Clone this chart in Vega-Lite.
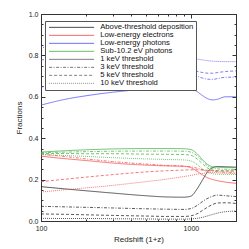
{
"$schema":"https://vega.github.io/schema/vega-lite/v6.json",
"width":195,"height":207,"autosize":"none",
"padding":{"left":41,"top":14,"right":13,"bottom":28},
"config":{"view":{"stroke":"#333","strokeWidth":1},
"axis":{"labelFont":"Liberation Sans","titleFont":"Liberation Sans","labelFontSize":7,"titleFontSize":8,"titleFontWeight":"normal","domainColor":"#333","tickColor":"#333","labelColor":"#222","titleColor":"#222","grid":false,"domainWidth":1}},
"data":{"values":[
{"c":"Above-threshold deposition","t":"1 keV","z":100,"f":0.166},{"c":"Above-threshold deposition","t":"1 keV","z":150,"f":0.154},{"c":"Above-threshold deposition","t":"1 keV","z":200,"f":0.146},{"c":"Above-threshold deposition","t":"1 keV","z":300,"f":0.135},{"c":"Above-threshold deposition","t":"1 keV","z":500,"f":0.122},{"c":"Above-threshold deposition","t":"1 keV","z":700,"f":0.116},{"c":"Above-threshold deposition","t":"1 keV","z":900,"f":0.115},{"c":"Above-threshold deposition","t":"1 keV","z":1000,"f":0.12},{"c":"Above-threshold deposition","t":"1 keV","z":1100,"f":0.155},{"c":"Above-threshold deposition","t":"1 keV","z":1200,"f":0.2},{"c":"Above-threshold deposition","t":"1 keV","z":1300,"f":0.24},{"c":"Above-threshold deposition","t":"1 keV","z":1400,"f":0.258},{"c":"Above-threshold deposition","t":"1 keV","z":1500,"f":0.263},{"c":"Above-threshold deposition","t":"1 keV","z":1700,"f":0.262},{"c":"Above-threshold deposition","t":"1 keV","z":2000,"f":0.26},
{"c":"Above-threshold deposition","t":"3 keV","z":100,"f":0.071},{"c":"Above-threshold deposition","t":"3 keV","z":150,"f":0.068},{"c":"Above-threshold deposition","t":"3 keV","z":200,"f":0.066},{"c":"Above-threshold deposition","t":"3 keV","z":300,"f":0.063},{"c":"Above-threshold deposition","t":"3 keV","z":500,"f":0.059},{"c":"Above-threshold deposition","t":"3 keV","z":700,"f":0.057},{"c":"Above-threshold deposition","t":"3 keV","z":900,"f":0.056},{"c":"Above-threshold deposition","t":"3 keV","z":1000,"f":0.06},{"c":"Above-threshold deposition","t":"3 keV","z":1100,"f":0.075},{"c":"Above-threshold deposition","t":"3 keV","z":1200,"f":0.095},{"c":"Above-threshold deposition","t":"3 keV","z":1300,"f":0.11},{"c":"Above-threshold deposition","t":"3 keV","z":1400,"f":0.12},{"c":"Above-threshold deposition","t":"3 keV","z":1500,"f":0.125},{"c":"Above-threshold deposition","t":"3 keV","z":1700,"f":0.122},{"c":"Above-threshold deposition","t":"3 keV","z":2000,"f":0.118},
{"c":"Above-threshold deposition","t":"5 keV","z":100,"f":0.034},{"c":"Above-threshold deposition","t":"5 keV","z":150,"f":0.032},{"c":"Above-threshold deposition","t":"5 keV","z":200,"f":0.03},{"c":"Above-threshold deposition","t":"5 keV","z":300,"f":0.027},{"c":"Above-threshold deposition","t":"5 keV","z":500,"f":0.024},{"c":"Above-threshold deposition","t":"5 keV","z":700,"f":0.022},{"c":"Above-threshold deposition","t":"5 keV","z":900,"f":0.022},{"c":"Above-threshold deposition","t":"5 keV","z":1000,"f":0.025},{"c":"Above-threshold deposition","t":"5 keV","z":1100,"f":0.035},{"c":"Above-threshold deposition","t":"5 keV","z":1200,"f":0.052},{"c":"Above-threshold deposition","t":"5 keV","z":1300,"f":0.068},{"c":"Above-threshold deposition","t":"5 keV","z":1400,"f":0.08},{"c":"Above-threshold deposition","t":"5 keV","z":1500,"f":0.087},{"c":"Above-threshold deposition","t":"5 keV","z":1700,"f":0.088},{"c":"Above-threshold deposition","t":"5 keV","z":2000,"f":0.085},
{"c":"Above-threshold deposition","t":"10 keV","z":100,"f":0.013},{"c":"Above-threshold deposition","t":"10 keV","z":150,"f":0.012},{"c":"Above-threshold deposition","t":"10 keV","z":200,"f":0.012},{"c":"Above-threshold deposition","t":"10 keV","z":300,"f":0.011},{"c":"Above-threshold deposition","t":"10 keV","z":500,"f":0.01},{"c":"Above-threshold deposition","t":"10 keV","z":700,"f":0.009},{"c":"Above-threshold deposition","t":"10 keV","z":900,"f":0.009},{"c":"Above-threshold deposition","t":"10 keV","z":1000,"f":0.01},{"c":"Above-threshold deposition","t":"10 keV","z":1100,"f":0.013},{"c":"Above-threshold deposition","t":"10 keV","z":1200,"f":0.018},{"c":"Above-threshold deposition","t":"10 keV","z":1300,"f":0.025},{"c":"Above-threshold deposition","t":"10 keV","z":1400,"f":0.032},{"c":"Above-threshold deposition","t":"10 keV","z":1500,"f":0.038},{"c":"Above-threshold deposition","t":"10 keV","z":1700,"f":0.045},{"c":"Above-threshold deposition","t":"10 keV","z":2000,"f":0.048},
{"c":"Low-energy electrons","t":"1 keV","z":100,"f":0.313},{"c":"Low-energy electrons","t":"1 keV","z":150,"f":0.3},{"c":"Low-energy electrons","t":"1 keV","z":200,"f":0.292},{"c":"Low-energy electrons","t":"1 keV","z":300,"f":0.28},{"c":"Low-energy electrons","t":"1 keV","z":500,"f":0.27},{"c":"Low-energy electrons","t":"1 keV","z":700,"f":0.266},{"c":"Low-energy electrons","t":"1 keV","z":900,"f":0.264},{"c":"Low-energy electrons","t":"1 keV","z":1000,"f":0.258},{"c":"Low-energy electrons","t":"1 keV","z":1100,"f":0.24},{"c":"Low-energy electrons","t":"1 keV","z":1200,"f":0.222},{"c":"Low-energy electrons","t":"1 keV","z":1300,"f":0.208},{"c":"Low-energy electrons","t":"1 keV","z":1400,"f":0.2},{"c":"Low-energy electrons","t":"1 keV","z":1500,"f":0.195},{"c":"Low-energy electrons","t":"1 keV","z":1700,"f":0.188},{"c":"Low-energy electrons","t":"1 keV","z":2000,"f":0.182},
{"c":"Low-energy electrons","t":"3 keV","z":100,"f":0.323},{"c":"Low-energy electrons","t":"3 keV","z":150,"f":0.31},{"c":"Low-energy electrons","t":"3 keV","z":200,"f":0.3},{"c":"Low-energy electrons","t":"3 keV","z":300,"f":0.287},{"c":"Low-energy electrons","t":"3 keV","z":500,"f":0.275},{"c":"Low-energy electrons","t":"3 keV","z":700,"f":0.268},{"c":"Low-energy electrons","t":"3 keV","z":900,"f":0.265},{"c":"Low-energy electrons","t":"3 keV","z":1000,"f":0.262},{"c":"Low-energy electrons","t":"3 keV","z":1100,"f":0.255},{"c":"Low-energy electrons","t":"3 keV","z":1200,"f":0.248},{"c":"Low-energy electrons","t":"3 keV","z":1300,"f":0.243},{"c":"Low-energy electrons","t":"3 keV","z":1400,"f":0.24},{"c":"Low-energy electrons","t":"3 keV","z":1500,"f":0.238},{"c":"Low-energy electrons","t":"3 keV","z":1700,"f":0.236},{"c":"Low-energy electrons","t":"3 keV","z":2000,"f":0.235},
{"c":"Low-energy electrons","t":"5 keV","z":100,"f":0.19},{"c":"Low-energy electrons","t":"5 keV","z":150,"f":0.203},{"c":"Low-energy electrons","t":"5 keV","z":200,"f":0.212},{"c":"Low-energy electrons","t":"5 keV","z":300,"f":0.224},{"c":"Low-energy electrons","t":"5 keV","z":500,"f":0.237},{"c":"Low-energy electrons","t":"5 keV","z":700,"f":0.243},{"c":"Low-energy electrons","t":"5 keV","z":900,"f":0.246},{"c":"Low-energy electrons","t":"5 keV","z":1000,"f":0.247},{"c":"Low-energy electrons","t":"5 keV","z":1100,"f":0.247},{"c":"Low-energy electrons","t":"5 keV","z":1200,"f":0.246},{"c":"Low-energy electrons","t":"5 keV","z":1300,"f":0.245},{"c":"Low-energy electrons","t":"5 keV","z":1400,"f":0.244},{"c":"Low-energy electrons","t":"5 keV","z":1500,"f":0.243},{"c":"Low-energy electrons","t":"5 keV","z":1700,"f":0.242},{"c":"Low-energy electrons","t":"5 keV","z":2000,"f":0.242},
{"c":"Low-energy electrons","t":"10 keV","z":100,"f":0.14},{"c":"Low-energy electrons","t":"10 keV","z":150,"f":0.152},{"c":"Low-energy electrons","t":"10 keV","z":200,"f":0.16},{"c":"Low-energy electrons","t":"10 keV","z":300,"f":0.172},{"c":"Low-energy electrons","t":"10 keV","z":500,"f":0.19},{"c":"Low-energy electrons","t":"10 keV","z":700,"f":0.203},{"c":"Low-energy electrons","t":"10 keV","z":900,"f":0.215},{"c":"Low-energy electrons","t":"10 keV","z":1000,"f":0.22},{"c":"Low-energy electrons","t":"10 keV","z":1100,"f":0.226},{"c":"Low-energy electrons","t":"10 keV","z":1200,"f":0.23},{"c":"Low-energy electrons","t":"10 keV","z":1300,"f":0.233},{"c":"Low-energy electrons","t":"10 keV","z":1400,"f":0.234},{"c":"Low-energy electrons","t":"10 keV","z":1500,"f":0.233},{"c":"Low-energy electrons","t":"10 keV","z":1700,"f":0.231},{"c":"Low-energy electrons","t":"10 keV","z":2000,"f":0.229},
{"c":"Low-energy photons","t":"1 keV","z":100,"f":0.56},{"c":"Low-energy photons","t":"1 keV","z":150,"f":0.59},{"c":"Low-energy photons","t":"1 keV","z":200,"f":0.605},{"c":"Low-energy photons","t":"1 keV","z":300,"f":0.622},{"c":"Low-energy photons","t":"1 keV","z":500,"f":0.637},{"c":"Low-energy photons","t":"1 keV","z":700,"f":0.643},{"c":"Low-energy photons","t":"1 keV","z":900,"f":0.645},{"c":"Low-energy photons","t":"1 keV","z":1000,"f":0.64},{"c":"Low-energy photons","t":"1 keV","z":1100,"f":0.625},{"c":"Low-energy photons","t":"1 keV","z":1200,"f":0.605},{"c":"Low-energy photons","t":"1 keV","z":1300,"f":0.59},{"c":"Low-energy photons","t":"1 keV","z":1400,"f":0.585},{"c":"Low-energy photons","t":"1 keV","z":1500,"f":0.588},{"c":"Low-energy photons","t":"1 keV","z":1700,"f":0.6},{"c":"Low-energy photons","t":"1 keV","z":2000,"f":0.6},
{"c":"Low-energy photons","t":"3 keV","z":100,"f":0.647},{"c":"Low-energy photons","t":"3 keV","z":150,"f":0.668},{"c":"Low-energy photons","t":"3 keV","z":200,"f":0.68},{"c":"Low-energy photons","t":"3 keV","z":300,"f":0.695},{"c":"Low-energy photons","t":"3 keV","z":500,"f":0.708},{"c":"Low-energy photons","t":"3 keV","z":700,"f":0.714},{"c":"Low-energy photons","t":"3 keV","z":900,"f":0.714},{"c":"Low-energy photons","t":"3 keV","z":1000,"f":0.71},{"c":"Low-energy photons","t":"3 keV","z":1100,"f":0.7},{"c":"Low-energy photons","t":"3 keV","z":1200,"f":0.69},{"c":"Low-energy photons","t":"3 keV","z":1300,"f":0.685},{"c":"Low-energy photons","t":"3 keV","z":1400,"f":0.684},{"c":"Low-energy photons","t":"3 keV","z":1500,"f":0.688},{"c":"Low-energy photons","t":"3 keV","z":1700,"f":0.694},{"c":"Low-energy photons","t":"3 keV","z":2000,"f":0.695},
{"c":"Low-energy photons","t":"5 keV","z":100,"f":0.78},{"c":"Low-energy photons","t":"5 keV","z":150,"f":0.77},{"c":"Low-energy photons","t":"5 keV","z":200,"f":0.764},{"c":"Low-energy photons","t":"5 keV","z":300,"f":0.755},{"c":"Low-energy photons","t":"5 keV","z":500,"f":0.744},{"c":"Low-energy photons","t":"5 keV","z":700,"f":0.737},{"c":"Low-energy photons","t":"5 keV","z":900,"f":0.733},{"c":"Low-energy photons","t":"5 keV","z":1000,"f":0.73},{"c":"Low-energy photons","t":"5 keV","z":1100,"f":0.723},{"c":"Low-energy photons","t":"5 keV","z":1200,"f":0.717},{"c":"Low-energy photons","t":"5 keV","z":1300,"f":0.714},{"c":"Low-energy photons","t":"5 keV","z":1400,"f":0.714},{"c":"Low-energy photons","t":"5 keV","z":1500,"f":0.717},{"c":"Low-energy photons","t":"5 keV","z":1700,"f":0.722},{"c":"Low-energy photons","t":"5 keV","z":2000,"f":0.725},
{"c":"Low-energy photons","t":"10 keV","z":100,"f":0.84},{"c":"Low-energy photons","t":"10 keV","z":150,"f":0.83},{"c":"Low-energy photons","t":"10 keV","z":200,"f":0.823},{"c":"Low-energy photons","t":"10 keV","z":300,"f":0.812},{"c":"Low-energy photons","t":"10 keV","z":500,"f":0.8},{"c":"Low-energy photons","t":"10 keV","z":700,"f":0.792},{"c":"Low-energy photons","t":"10 keV","z":900,"f":0.787},{"c":"Low-energy photons","t":"10 keV","z":1000,"f":0.785},{"c":"Low-energy photons","t":"10 keV","z":1100,"f":0.782},{"c":"Low-energy photons","t":"10 keV","z":1200,"f":0.778},{"c":"Low-energy photons","t":"10 keV","z":1300,"f":0.774},{"c":"Low-energy photons","t":"10 keV","z":1400,"f":0.772},{"c":"Low-energy photons","t":"10 keV","z":1500,"f":0.771},{"c":"Low-energy photons","t":"10 keV","z":1700,"f":0.77},{"c":"Low-energy photons","t":"10 keV","z":2000,"f":0.77},
{"c":"Sub-10.2 eV photons","t":"1 keV","z":100,"f":0.333},{"c":"Sub-10.2 eV photons","t":"1 keV","z":150,"f":0.34},{"c":"Sub-10.2 eV photons","t":"1 keV","z":200,"f":0.344},{"c":"Sub-10.2 eV photons","t":"1 keV","z":300,"f":0.348},{"c":"Sub-10.2 eV photons","t":"1 keV","z":500,"f":0.35},{"c":"Sub-10.2 eV photons","t":"1 keV","z":700,"f":0.35},{"c":"Sub-10.2 eV photons","t":"1 keV","z":900,"f":0.349},{"c":"Sub-10.2 eV photons","t":"1 keV","z":1000,"f":0.345},{"c":"Sub-10.2 eV photons","t":"1 keV","z":1100,"f":0.325},{"c":"Sub-10.2 eV photons","t":"1 keV","z":1200,"f":0.295},{"c":"Sub-10.2 eV photons","t":"1 keV","z":1300,"f":0.272},{"c":"Sub-10.2 eV photons","t":"1 keV","z":1400,"f":0.262},{"c":"Sub-10.2 eV photons","t":"1 keV","z":1500,"f":0.26},{"c":"Sub-10.2 eV photons","t":"1 keV","z":1700,"f":0.258},{"c":"Sub-10.2 eV photons","t":"1 keV","z":2000,"f":0.258},
{"c":"Sub-10.2 eV photons","t":"3 keV","z":100,"f":0.33},{"c":"Sub-10.2 eV photons","t":"3 keV","z":150,"f":0.333},{"c":"Sub-10.2 eV photons","t":"3 keV","z":200,"f":0.335},{"c":"Sub-10.2 eV photons","t":"3 keV","z":300,"f":0.337},{"c":"Sub-10.2 eV photons","t":"3 keV","z":500,"f":0.338},{"c":"Sub-10.2 eV photons","t":"3 keV","z":700,"f":0.338},{"c":"Sub-10.2 eV photons","t":"3 keV","z":900,"f":0.337},{"c":"Sub-10.2 eV photons","t":"3 keV","z":1000,"f":0.333},{"c":"Sub-10.2 eV photons","t":"3 keV","z":1100,"f":0.315},{"c":"Sub-10.2 eV photons","t":"3 keV","z":1200,"f":0.288},{"c":"Sub-10.2 eV photons","t":"3 keV","z":1300,"f":0.265},{"c":"Sub-10.2 eV photons","t":"3 keV","z":1400,"f":0.255},{"c":"Sub-10.2 eV photons","t":"3 keV","z":1500,"f":0.252},{"c":"Sub-10.2 eV photons","t":"3 keV","z":1700,"f":0.25},{"c":"Sub-10.2 eV photons","t":"3 keV","z":2000,"f":0.25},
{"c":"Sub-10.2 eV photons","t":"5 keV","z":100,"f":0.326},{"c":"Sub-10.2 eV photons","t":"5 keV","z":150,"f":0.326},{"c":"Sub-10.2 eV photons","t":"5 keV","z":200,"f":0.325},{"c":"Sub-10.2 eV photons","t":"5 keV","z":300,"f":0.325},{"c":"Sub-10.2 eV photons","t":"5 keV","z":500,"f":0.323},{"c":"Sub-10.2 eV photons","t":"5 keV","z":700,"f":0.322},{"c":"Sub-10.2 eV photons","t":"5 keV","z":900,"f":0.321},{"c":"Sub-10.2 eV photons","t":"5 keV","z":1000,"f":0.317},{"c":"Sub-10.2 eV photons","t":"5 keV","z":1100,"f":0.3},{"c":"Sub-10.2 eV photons","t":"5 keV","z":1200,"f":0.275},{"c":"Sub-10.2 eV photons","t":"5 keV","z":1300,"f":0.255},{"c":"Sub-10.2 eV photons","t":"5 keV","z":1400,"f":0.246},{"c":"Sub-10.2 eV photons","t":"5 keV","z":1500,"f":0.243},{"c":"Sub-10.2 eV photons","t":"5 keV","z":1700,"f":0.242},{"c":"Sub-10.2 eV photons","t":"5 keV","z":2000,"f":0.242},
{"c":"Sub-10.2 eV photons","t":"10 keV","z":100,"f":0.32},{"c":"Sub-10.2 eV photons","t":"10 keV","z":150,"f":0.316},{"c":"Sub-10.2 eV photons","t":"10 keV","z":200,"f":0.312},{"c":"Sub-10.2 eV photons","t":"10 keV","z":300,"f":0.306},{"c":"Sub-10.2 eV photons","t":"10 keV","z":500,"f":0.3},{"c":"Sub-10.2 eV photons","t":"10 keV","z":700,"f":0.297},{"c":"Sub-10.2 eV photons","t":"10 keV","z":900,"f":0.295},{"c":"Sub-10.2 eV photons","t":"10 keV","z":1000,"f":0.29},{"c":"Sub-10.2 eV photons","t":"10 keV","z":1100,"f":0.273},{"c":"Sub-10.2 eV photons","t":"10 keV","z":1200,"f":0.25},{"c":"Sub-10.2 eV photons","t":"10 keV","z":1300,"f":0.235},{"c":"Sub-10.2 eV photons","t":"10 keV","z":1400,"f":0.228},{"c":"Sub-10.2 eV photons","t":"10 keV","z":1500,"f":0.226},{"c":"Sub-10.2 eV photons","t":"10 keV","z":1700,"f":0.225},{"c":"Sub-10.2 eV photons","t":"10 keV","z":2000,"f":0.225}
]},
"layer":[
{"mark":{"type":"line","strokeWidth":0.7,"interpolate":"monotone","clip":true},
"encoding":{
"x":{"field":"z","type":"quantitative","scale":{"type":"log","domain":[100,2000],"nice":false},"axis":{"orient":"bottom","values":[100,1000],"format":"d","tickSize":-4,"labelPadding":7,"title":"Redshift (1+z)","titlePadding":4,"labelFlush":false}},
"y":{"field":"f","type":"quantitative","scale":{"domain":[0,1],"nice":false,"zero":false},"axis":{"orient":"left","values":[0,0.2,0.4,0.6,0.8,1],"format":".1f","tickSize":-4,"labelPadding":7,"title":"Fractions","titlePadding":5}},
"color":{"field":"c","type":"nominal","scale":{"domain":["Above-threshold deposition","Low-energy electrons","Low-energy photons","Sub-10.2 eV photons","1 keV threshold","3 keV threshold","5 keV threshold","10 keV threshold"],"range":["#111111","#f03c3c","#4444f0","#3aaa3a","#555555","#555555","#666666","#777777"]},
"legend":{"title":null,"orient":"none","legendX":4,"legendY":7,"symbolType":"M-1,0H19","symbolSize":20.25,"symbolStrokeWidth":0.8,"labelFont":"Liberation Sans","labelFontSize":7.7,"labelColor":"#111","labelOffset":45,"rowPadding":-1.3,"padding":2.5,"fillColor":"white","strokeColor":"#555",
"encode":{"symbols":{"update":{"strokeDash":{"signal":"datum.value=='3 keV threshold'?[3,1.5,1,1.5]:datum.value=='5 keV threshold'?[3,2]:datum.value=='10 keV threshold'?[1,1]:[1,0]"}}}}}},
"strokeDash":{"field":"t","type":"nominal","scale":{"domain":["1 keV","3 keV","5 keV","10 keV"],"range":[[1,0],[3,1.5,1,1.5],[3,2],[1,1]]},"legend":null}
}},
{"mark":{"type":"point","opacity":0,"size":0},
"encoding":{
"x":{"field":"z","type":"quantitative","scale":{"type":"log","domain":[100,2000],"nice":false},"axis":{"orient":"bottom","values":[200,300,400,500,600,700,800,900,2000],"labels":false,"title":null,"domain":false,"tickSize":-2}},
"y":{"field":"f","type":"quantitative","scale":{"domain":[0,1],"nice":false,"zero":false},"axis":{"orient":"left","values":[0.05,0.1,0.15,0.25,0.3,0.35,0.45,0.5,0.55,0.65,0.7,0.75,0.85,0.9,0.95],"labels":false,"title":null,"domain":false,"tickSize":-2}}
}},
{"mark":{"type":"point","opacity":0,"size":0},
"encoding":{
"x":{"field":"z","type":"quantitative","scale":{"type":"log","domain":[100,2000],"nice":false},"axis":{"orient":"top","values":[100,1000],"labels":false,"title":null,"domain":false,"tickSize":-4}},
"y":{"field":"f","type":"quantitative","scale":{"domain":[0,1],"nice":false,"zero":false},"axis":{"orient":"right","values":[0,0.2,0.4,0.6,0.8,1],"labels":false,"title":null,"domain":false,"tickSize":-4}}
}},
{"mark":{"type":"point","opacity":0,"size":0},
"encoding":{
"x":{"field":"z","type":"quantitative","scale":{"type":"log","domain":[100,2000],"nice":false},"axis":{"orient":"top","values":[200,300,400,500,600,700,800,900,2000],"labels":false,"title":null,"domain":false,"tickSize":-2}},
"y":{"field":"f","type":"quantitative","scale":{"domain":[0,1],"nice":false,"zero":false},"axis":{"orient":"right","values":[0.05,0.1,0.15,0.25,0.3,0.35,0.45,0.5,0.55,0.65,0.7,0.75,0.85,0.9,0.95],"labels":false,"title":null,"domain":false,"tickSize":-2}}
}}
],
"resolve":{"axis":{"x":"independent","y":"independent"}}
}
